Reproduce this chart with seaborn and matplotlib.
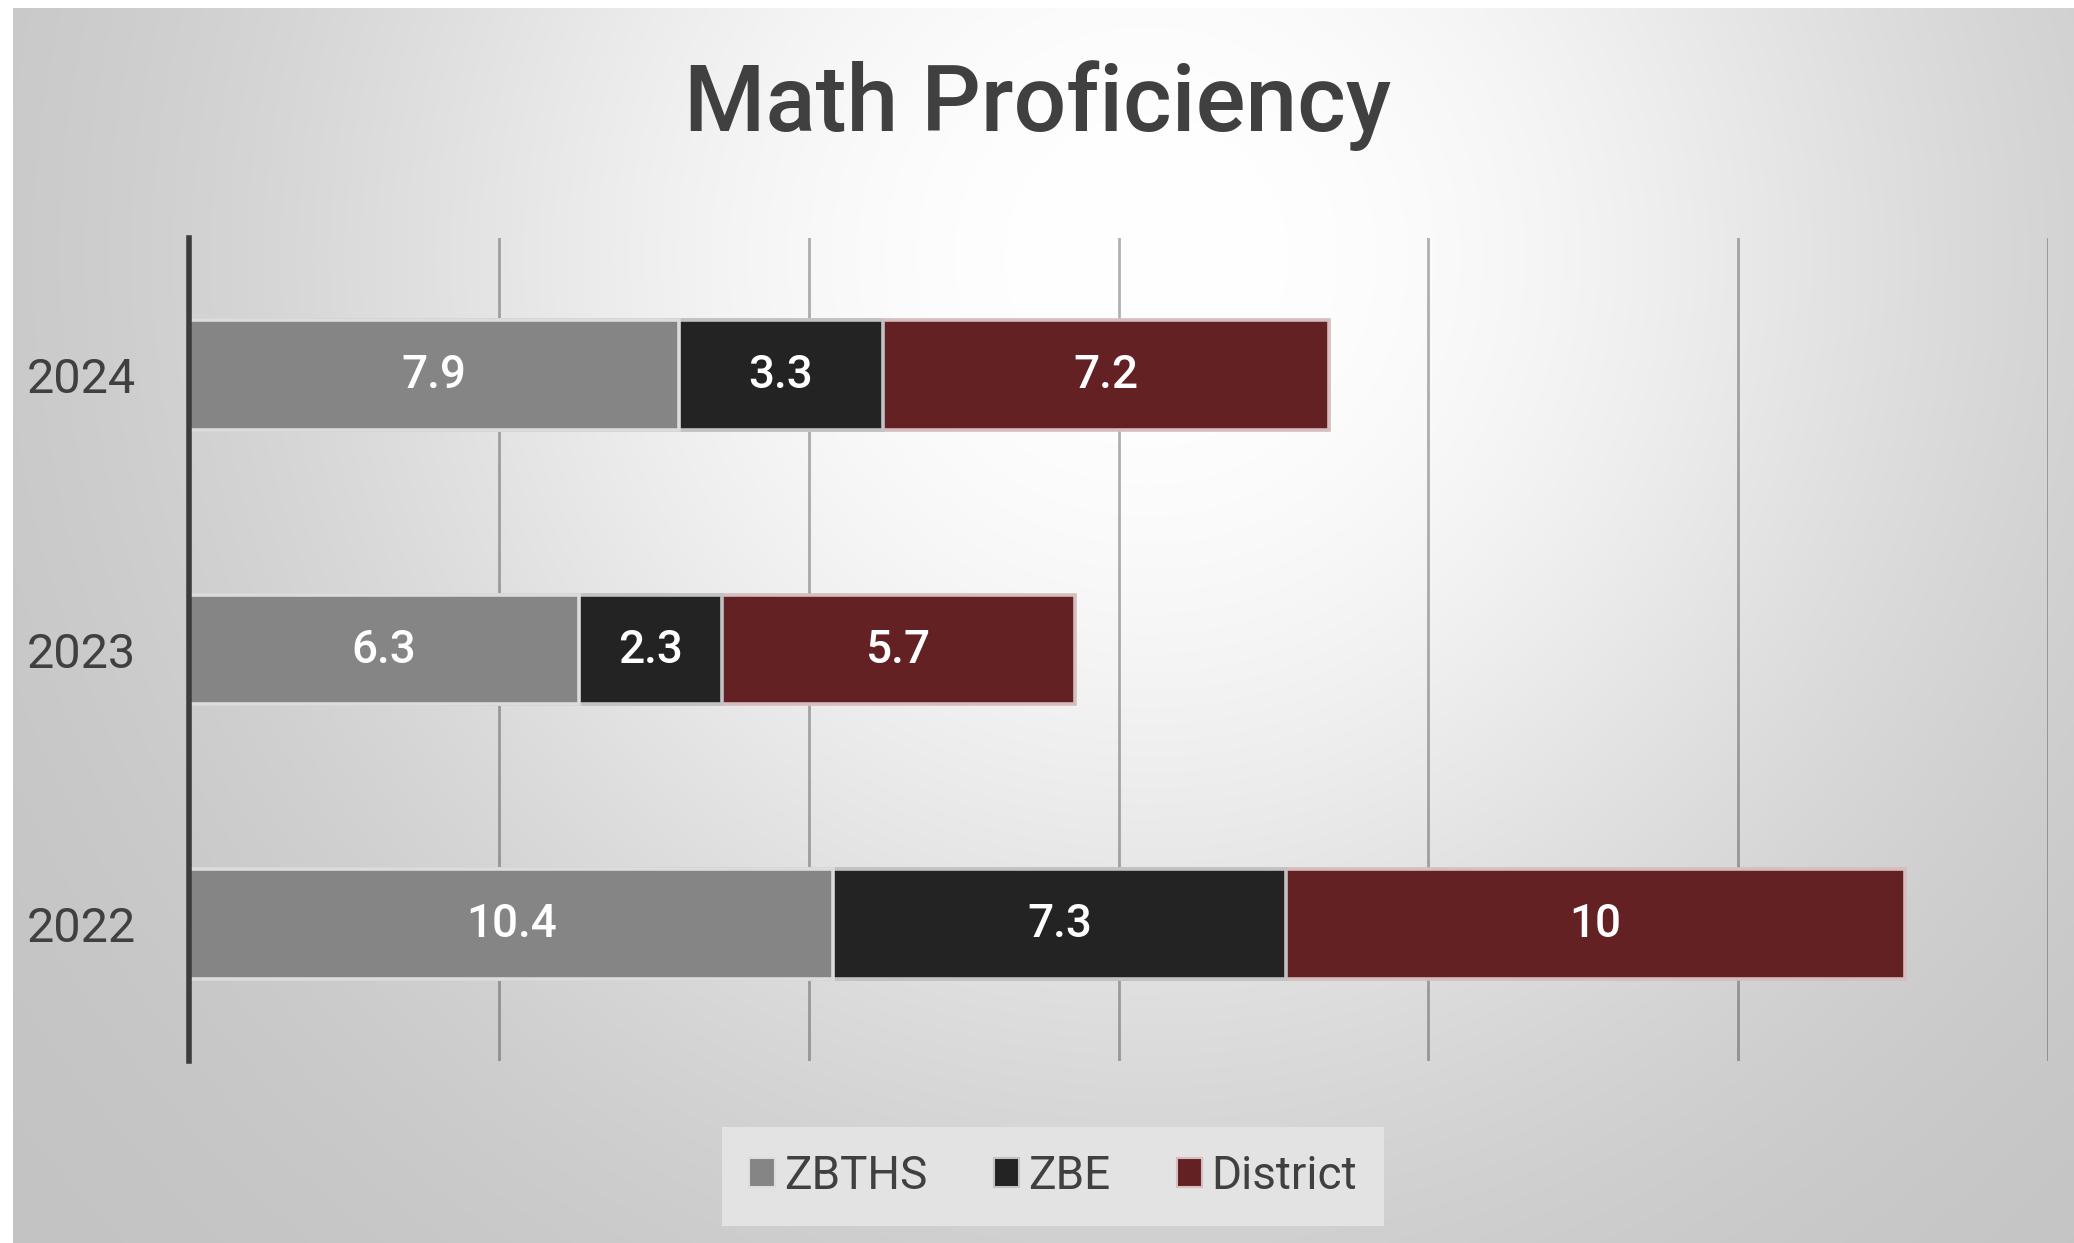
import numpy as np
import pandas as pd
import matplotlib
matplotlib.use("Agg")
import matplotlib.pyplot as plt
from matplotlib.patches import Patch
import seaborn as sns

# values
years = ["2024", "2023", "2022"]
zbths = [7.9, 6.3, 10.4]
zbe = [3.3, 2.3, 7.3]
district = [7.2, 5.7, 10]

series = ["ZBTHS", "ZBE", "District"]
colors = {"ZBTHS": "#858585", "ZBE": "#232323", "District": "#642123"}
edges = {"ZBTHS": "#dcdcdc", "ZBE": "#c2c2c2", "District": "#d6bdbe"}

df = pd.DataFrame({"year": years, "ZBTHS": zbths, "ZBE": zbe, "District": district})
df["c1"] = df["ZBTHS"]
df["c2"] = df["c1"] + df["ZBE"]
df["c3"] = df["c2"] + df["District"]

sns.set_theme(style="white")
plt.rcParams["font.family"] = ["Roboto", "DejaVu Sans"]

fig = plt.figure(figsize=(20.74, 12.43), dpi=100, facecolor="white")

# soft radial background, white near the title, grey towards the corners
bg = fig.add_axes([13 / 2074, 0, 1 - 13 / 2074, 1 - 8 / 1243], zorder=-10)
yy, xx = np.mgrid[0:1243:300j, 0:2074:500j]
d = np.hypot(xx - 0.55 * 2074, yy - 0.2 * 1243) / 1000
v = 1 - 0.24 * (1 - np.exp(-(d / 0.85) ** 2.3))
bg.imshow(np.dstack([v, v, v]), aspect="auto", extent=[0, 1, 1, 0], interpolation="bilinear")
bg.axis("off")

ax = fig.add_axes([189 / 2074, 0.1464, (2048 - 189) / 2074, 0.8085 - 0.1464])
ax.set_facecolor("none")

# stacked bars: draw cumulative totals from longest to shortest
for col, name in [("c3", "District"), ("c2", "ZBE"), ("c1", "ZBTHS")]:
    sns.barplot(data=df, x=col, y="year", order=years, orient="h", width=0.4,
                color=colors[name], saturation=1, edgecolor=edges[name],
                linewidth=2.6, ax=ax)

# segment labels
for i, yr in enumerate(years):
    left = 0
    for name in series:
        val = df.loc[i, name]
        ax.text(left + val / 2, i, f"{val:g}", ha="center", va="center",
                color="white", fontsize=33, fontweight="medium")
        left += val

ax.set_xlim(0, 30)
ax.set_ylim(2.5, -0.5)
ax.set_xticks(np.arange(0, 31, 5))
ax.set_xticklabels([])
ax.xaxis.grid(True, color="#000000", alpha=0.3, linewidth=2)
ax.set_axisbelow(True)
ax.tick_params(axis="both", length=0)
ax.tick_params(axis="y", pad=38, labelsize=35, labelcolor="#404040")
ax.set_xlabel("")
ax.set_ylabel("")
for s in ["top", "right", "bottom"]:
    ax.spines[s].set_visible(False)
ax.spines["left"].set_color("#3c3c3c")
ax.spines["left"].set_linewidth(4)

fig.text(1038 / 2074, 1 - 106 / 1243, "Math Proficiency", ha="center", va="center",
         fontsize=67, fontweight="medium", color="#404040")

handles = [Patch(facecolor=colors[n], edgecolor=edges[n], linewidth=1.5) for n in series]
leg = fig.legend(handles, series, loc="center", bbox_to_anchor=(1053 / 2074, 1 - 1176 / 1243),
                 ncol=3, frameon=True, fancybox=False, fontsize=33,
                 handlelength=0.55, handleheight=0.6, handletextpad=0.2,
                 columnspacing=1.45, borderpad=0.6)
leg.get_frame().set_facecolor("#e3e3e3")
leg.get_frame().set_edgecolor("none")
leg.get_frame().set_alpha(1)
for t in leg.get_texts():
    t.set_color("#404040")

fig.savefig("out.png", dpi=100, facecolor="white")
